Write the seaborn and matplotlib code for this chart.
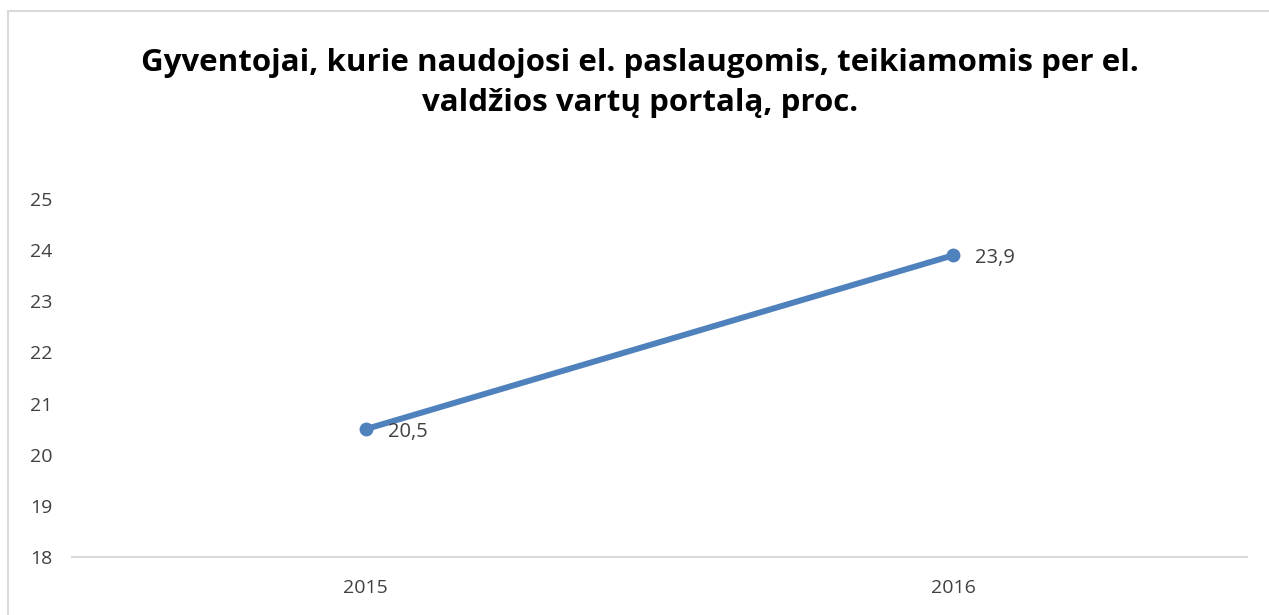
import pandas as pd
import matplotlib.pyplot as plt
from matplotlib.lines import Line2D
import seaborn as sns

# Data
years = ["2015", "2016"]
shares = [20.5, 23.9]
value_labels = ["20,5", "23,9"]
y_ticks = [18, 19, 20, 21, 22, 23, 24, 25]

TITLE = ("Gyventojai, kurie naudojosi el. paslaugomis, teikiamomis per el.\n"
         "valdžios vartų portalą, proc.")

LINE_CLR = "#4F81BD"
GRID_CLR = "#D9D9D9"
TEXT_CLR = "#404040"

sns.set_theme(style="white")
plt.rcParams["font.family"] = ["Open Sans", "DejaVu Sans"]

df = pd.DataFrame({"Metai": years, "Proc": shares})

fig = plt.figure(figsize=(12.69, 6.15), dpi=100)
ax = fig.add_axes([0.0567, 0.0943, 0.9260, 0.5821])

sns.lineplot(data=df, x="Metai", y="Proc", color=LINE_CLR, linewidth=4.3,
             marker="o", markersize=10, markeredgewidth=0, ax=ax)

for x, y, lab in zip(df["Metai"], df["Proc"], value_labels):
    ax.annotate(lab, (x, y), xytext=(16, -2), textcoords="offset points",
                ha="left", va="center", fontsize=14.5, color=TEXT_CLR)

ax.set_xlim(-0.5, 1.5)
ax.set_ylim(y_ticks[0], y_ticks[-1])
ax.set_yticks(y_ticks)
ax.set_xlabel("")
ax.set_ylabel("")
ax.tick_params(axis="y", length=0, pad=14, labelsize=14, labelcolor=TEXT_CLR)
ax.tick_params(axis="x", length=0, pad=16, labelsize=14, labelcolor=TEXT_CLR)

for side in ["top", "right", "left"]:
    ax.spines[side].set_visible(False)
ax.spines["bottom"].set_color(GRID_CLR)
ax.spines["bottom"].set_linewidth(1.5)

fig.text(0.504, 0.865, TITLE, ha="center", va="center", fontsize=22.5,
         fontweight="bold", color="black", linespacing=1.45)

# chart frame (only top and left edges visible in the crop)
fig.add_artist(Line2D([8 / 1269, 1], [1 - 11 / 615] * 2, color=GRID_CLR, lw=1.5))
fig.add_artist(Line2D([8 / 1269] * 2, [0, 1 - 11 / 615], color=GRID_CLR, lw=1.5))

fig.savefig("out.png", dpi=100)
